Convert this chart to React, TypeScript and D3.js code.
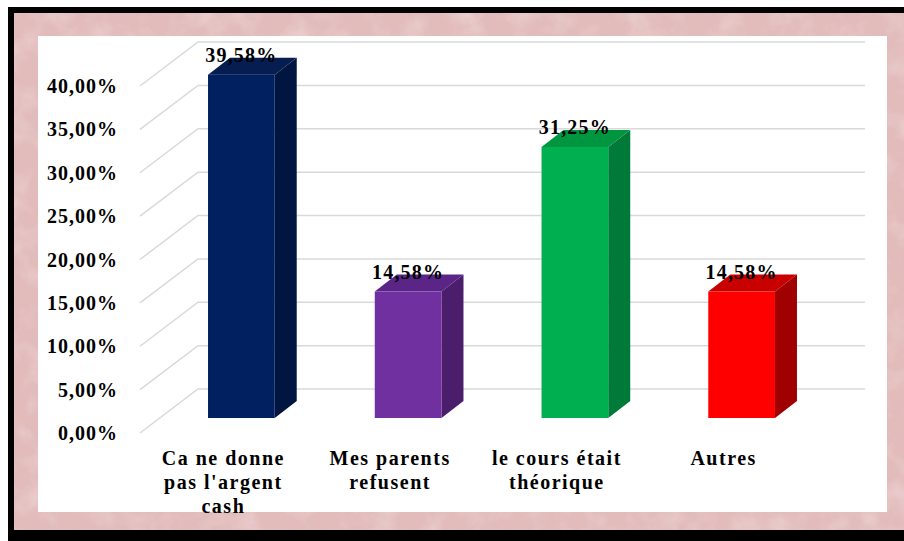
import React from "react";
import * as d3 from "d3";

const categories = [
  "Ca ne donne\npas l'argent\ncash",
  "Mes parents\nrefusent",
  "le cours était\nthéorique",
  "Autres",
];
const values = [0.3958, 0.1458, 0.3125, 0.1458];
const valueLabels = ["39,58%", "14,58%", "31,25%", "14,58%"];
const tickValues = [0, 0.05, 0.1, 0.15, 0.2, 0.25, 0.3, 0.35, 0.4];
const frontColors = ["#002060", "#7030A0", "#00B050", "#FF0000"];
const sideColors = ["#001640", "#4A1E6A", "#007A38", "#A00000"];
const topColors = ["#061d52", "#5A2587", "#00963F", "#C80000"];

const W = 904;
const H = 541;

export default function App() {
  const x = d3
    .scaleBand<number>()
    .domain(d3.range(categories.length))
    .range([140, 807])
    .paddingInner(0.6)
    .paddingOuter(0.3);
  const y = d3.scaleLinear().domain([0, 0.4]).range([433, 86]);
  const wallDx = 58;
  const wallDy = -44;
  const f1x = 18, f1y = -15; // bar front face depth offset
  const f2x = 40, f2y = -32; // bar back face depth offset
  const fmt = (v: number) => d3.format(".2f")(v * 100).replace(".", ",") + "%";
  const font = "'Liberation Serif', 'Times New Roman', serif";

  return (
    <svg
      width={W}
      height={H}
      style={{ position: "absolute", left: 0, top: 0, background: "#fff" }}
    >
      <defs>
        <filter id="tex" x="0" y="0" width="100%" height="100%">
          <feTurbulence type="fractalNoise" baseFrequency="0.035" numOctaves={4} seed={7} />
          <feColorMatrix
            type="matrix"
            values="0 0 0 0 1  0 0 0 0 0.93  0 0 0 0 0.93  1.4 0 0 0 -0.6"
          />
        </filter>
        <filter id="tex2" x="0" y="0" width="100%" height="100%">
          <feTurbulence type="fractalNoise" baseFrequency="0.08" numOctaves={3} seed={2} />
          <feColorMatrix
            type="matrix"
            values="0 0 0 0 0.75  0 0 0 0 0.55  0 0 0 0 0.57  -1.4 0 0 0 0.75"
          />
        </filter>
      </defs>
      <rect x={8} y={7} width={W} height={H} fill="#000" />
      <rect x={14} y={13} width={W} height={517} fill="#e2bbbb" />
      <rect x={14} y={13} width={W} height={517} filter="url(#tex)" opacity={0.45} />
      <rect x={14} y={13} width={W} height={517} filter="url(#tex2)" opacity={0.4} />
      <rect x={38} y={36} width={849} height={476} fill="#fff" />

      {/* gridlines */}
      <g stroke="#d9d9d9" strokeWidth={1.5} fill="none">
        {tickValues.map((t) => (
          <polyline
            key={t}
            points={`140,${y(t)} ${140 + wallDx},${y(t) + wallDy} ${807 + wallDx},${y(t) + wallDy}`}
          />
        ))}
      </g>

      {/* y tick labels */}
      <g fontFamily={font} fontWeight="bold" fontSize={20} textAnchor="end" fill="#000">
        {tickValues.map((t) => (
          <text key={t} x={118} y={y(t) + 7} letterSpacing={1}>
            {fmt(t)}
          </text>
        ))}
      </g>

      {/* bars */}
      {values.map((v, i) => {
        const x0 = x(i)! + f1x;
        const x1 = x0 + x.bandwidth();
        const yb = y(0) + f1y;
        const yt = y(v) + f1y;
        const dx = f2x - f1x;
        const dy = f2y - f1y;
        return (
          <g key={i}>
            <polygon
              points={`${x1},${yb} ${x1 + dx},${yb + dy} ${x1 + dx},${yt + dy} ${x1},${yt}`}
              fill={sideColors[i]}
            />
            <polygon
              points={`${x0},${yt} ${x1},${yt} ${x1 + dx},${yt + dy} ${x0 + dx},${yt + dy}`}
              fill={topColors[i]}
            />
            <rect x={x0} y={yt} width={x.bandwidth()} height={yb - yt} fill={frontColors[i]} />
            <text
              x={x0 + x.bandwidth() / 2}
              y={yt - 13}
              textAnchor="middle"
              fontFamily={font}
              fontWeight="bold"
              fontSize={20}
              letterSpacing={1.2}
            >
              {valueLabels[i]}
            </text>
          </g>
        );
      })}

      {/* x labels */}
      <g fontFamily={font} fontWeight="bold" fontSize={20} textAnchor="middle" fill="#000">
        {categories.map((c, i) => (
          <text key={i} x={x(i)! + x.bandwidth() / 2} y={465} letterSpacing={1.5}>
            {c.split("\n").map((line, j) => (
              <tspan key={j} x={x(i)! + x.bandwidth() / 2} dy={j === 0 ? 0 : 24}>
                {line}
              </tspan>
            ))}
          </text>
        ))}
      </g>
    </svg>
  );
}
